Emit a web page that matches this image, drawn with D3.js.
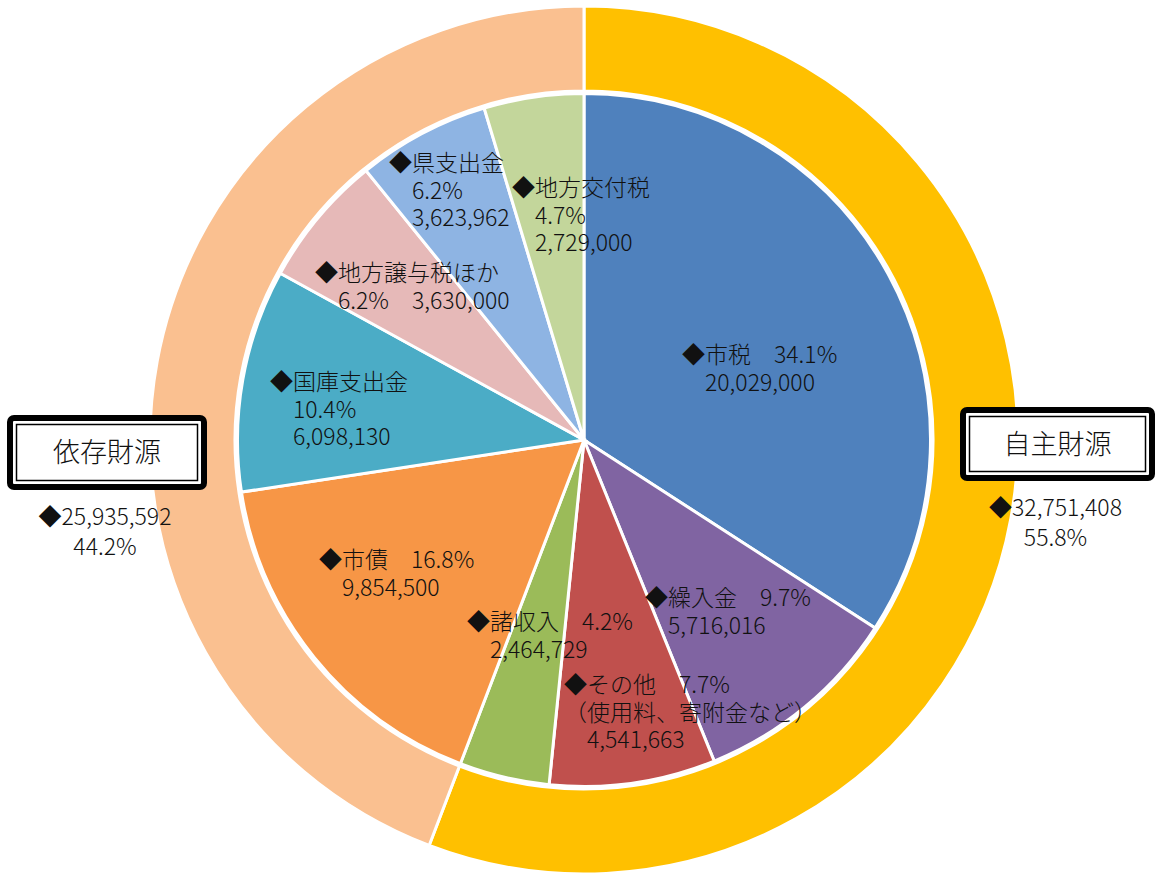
<!DOCTYPE html>
<html>
<head>
<meta charset="utf-8">
<script src="https://cdn.jsdelivr.net/npm/d3@7"></script>
<style>
body { margin: 0; background: #fff; }
text { font-family: "Noto Sans CJK JP", "Noto Sans", sans-serif; font-weight: 300; fill: #111; }
</style>
</head>
<body>
<div id="chart"></div>
<script>
// inner pie : revenue items (yen), clockwise from 12 o'clock
var items = ["市税", "繰入金", "その他", "諸収入", "市債", "国庫支出金", "地方譲与税ほか", "県支出金", "地方交付税"];
var values = [20029000, 5716016, 4541663, 2464729, 9854500, 6098130, 3630000, 3623962, 2729000];
var notes = ["", "", "（使用料、寄附金など）", "", "", "", "", "", ""];

// outer ring : which group each item belongs to
var groups = ["自主財源", "依存財源"];
var groupOf = ["自主財源", "自主財源", "自主財源", "自主財源", "依存財源", "依存財源", "依存財源", "依存財源", "依存財源"];

var itemColors = ["#4F81BD", "#8064A2", "#C0504D", "#9BBB59", "#F79646", "#4BACC6", "#E6B9B8", "#8EB4E3", "#C3D69B"];
var groupColors = ["#FFC000", "#FAC090"];

// label placement, relative to pie centre (x = start of text after the diamond)
// inline: name + pct on first line, stack: name / pct / value, pair: name / pct + value
var labelLayout = {
  "市税":         {x: 121,  y: -85,  kind: "inline"},
  "繰入金":       {x: 84,   y: 158,  kind: "inline"},
  "その他":       {x: 3,    y: 245,  kind: "inline"},
  "諸収入":       {x: -94,  y: 182,  kind: "inline"},
  "市債":         {x: -242, y: 120,  kind: "inline"},
  "国庫支出金":   {x: -291, y: -58,  kind: "stack"},
  "地方譲与税ほか": {x: -246, y: -167, kind: "pair"},
  "県支出金":     {x: -172, y: -277, kind: "stack"},
  "地方交付税":   {x: -49,  y: -252, kind: "stack"}
};
var boxLayout = {
  "自主財源": {x: 963, y: 410, w: 189, h: 68},
  "依存財源": {x: 10,  y: 418, w: 194, h: 69}
};

var width = 1157, height = 875;
var cx = 584, cy = 440;
var pieR = 346.5, ringIn = 349, ringOut = 434;
var fs = 23, lh = 27.5;

var total = d3.sum(values);
var groupTotals = groups.map(function(g) {
  return d3.sum(values.filter(function(v, i) { return groupOf[i] === g; }));
});
var pct = d3.format(".1%");
var num = d3.format(",");

var svg = d3.select("#chart")
  .append("svg")
    .attr("width", width)
    .attr("height", height)
    .style("background", "#fff");

var g = svg.append("g")
    .attr("transform", "translate(" + cx + "," + cy + ")");

var pie = d3.pie().sort(null).value(function(d) { return d; });

// outer ring
g.selectAll("path.ring")
  .data(pie(groupTotals))
  .enter().append("path")
    .attr("class", "ring")
    .attr("d", d3.arc().innerRadius(ringIn).outerRadius(ringOut))
    .attr("fill", function(d, i) { return groupColors[i]; })
    .attr("stroke", "#fff")
    .attr("stroke-width", 3);

// inner pie
g.selectAll("path.slice")
  .data(pie(values))
  .enter().append("path")
    .attr("class", "slice")
    .attr("d", d3.arc().innerRadius(0).outerRadius(pieR))
    .attr("fill", function(d, i) { return itemColors[i]; })
    .attr("stroke", "#fff")
    .attr("stroke-width", 3);

// slice labels
items.forEach(function(name, i) {
  var L = labelLayout[name];
  var p = pct(values[i] / total), v = num(values[i]);
  var lines = [];
  if (L.kind === "inline") {
    lines.push({t: "◆" + name + "　" + p, dx: -fs});
    if (notes[i]) lines.push({t: notes[i], dx: -fs});
    lines.push({t: v, dx: 0});
  } else if (L.kind === "stack") {
    lines.push({t: "◆" + name, dx: -fs});
    lines.push({t: p, dx: 0});
    lines.push({t: v, dx: 0});
  } else {
    lines.push({t: "◆" + name, dx: -fs});
    lines.push({t: p + "　" + v, dx: 0});
  }
  var t = g.append("text")
    .attr("font-size", fs + "px");
  lines.forEach(function(l, k) {
    t.append("tspan")
      .attr("x", L.x + l.dx)
      .attr("y", L.y + k * lh)
      .attr("dy", "0.36em")
      .text(l.t);
  });
});

// group boxes (thick-thin double border) and totals
groups.forEach(function(name, i) {
  var b = boxLayout[name];
  var bx = svg.append("g");
  bx.append("rect")
    .attr("x", b.x).attr("y", b.y)
    .attr("width", b.w).attr("height", b.h)
    .attr("rx", 4)
    .attr("fill", "#fff")
    .attr("stroke", "#000")
    .attr("stroke-width", 6);
  bx.append("rect")
    .attr("x", b.x + 6.5).attr("y", b.y + 6.5)
    .attr("width", b.w - 13).attr("height", b.h - 13)
    .attr("fill", "none")
    .attr("stroke", "#000")
    .attr("stroke-width", 1.5);
  bx.append("text")
    .attr("x", b.x + b.w / 2)
    .attr("y", b.y + b.h / 2)
    .attr("dy", "0.36em")
    .attr("text-anchor", "middle")
    .attr("font-size", "27px")
    .text(name);
  var t = svg.append("text")
    .attr("font-size", fs + "px")
    .attr("text-anchor", "middle");
  [ "◆" + num(groupTotals[i]), pct(groupTotals[i] / total) ].forEach(function(s, k) {
    t.append("tspan")
      .attr("x", b.x + b.w / 2 - 2)
      .attr("y", b.y + b.h + 30 + k * 30)
      .attr("dy", "0.36em")
      .text(s);
  });
});
</script>
</body>
</html>
